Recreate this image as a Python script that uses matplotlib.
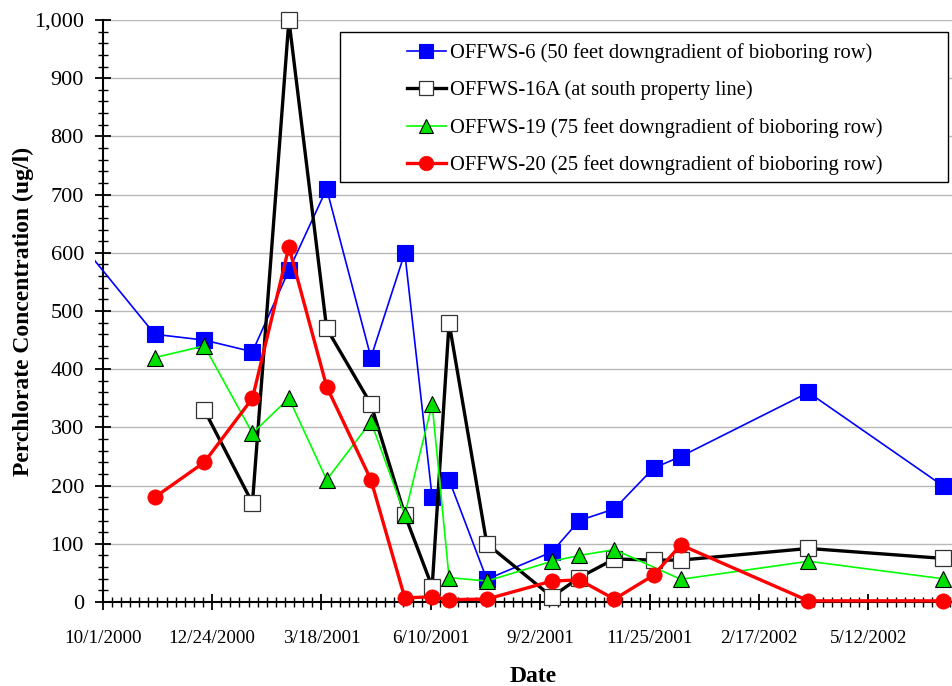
import matplotlib
matplotlib.use('Agg')
import matplotlib.pyplot as plt
import matplotlib.dates as mdates
from matplotlib.patches import Rectangle
from matplotlib.ticker import MultipleLocator, FuncFormatter, FixedLocator
import pandas as pd

plt.rcParams['font.family'] = ['Liberation Serif', 'DejaVu Serif']

# ---------------- data ----------------
ws6_dates = ['2000-08-31', '2000-11-10', '2000-12-18', '2001-01-24', '2001-02-21', '2001-03-22',
             '2001-04-25', '2001-05-21', '2001-06-11', '2001-06-24', '2001-07-23', '2001-09-11',
             '2001-10-02', '2001-10-29', '2001-11-28', '2001-12-19', '2002-03-27', '2002-07-08']
ws6_values = [655, 460, 450, 430, 570, 710, 420, 600, 180, 210, 39, 86, 140, 160, 230, 250, 360, 200]

ws16a_dates = ['2000-12-18', '2001-01-24', '2001-02-21', '2001-03-22', '2001-04-25', '2001-05-21',
               '2001-06-11', '2001-06-24', '2001-07-23', '2001-09-11', '2001-10-02', '2001-10-29',
               '2001-11-28', '2001-12-19', '2002-03-27', '2002-07-08']
ws16a_values = [330, 170, 1000, 470, 340, 150, 26, 480, 100, 9, 42, 74, 72, 72, 92, 75]

ws19_dates = ['2000-11-10', '2000-12-18', '2001-01-24', '2001-02-21', '2001-03-22', '2001-04-25',
              '2001-05-21', '2001-06-11', '2001-06-24', '2001-07-23', '2001-09-11', '2001-10-02',
              '2001-10-29', '2001-12-19', '2002-03-27', '2002-07-08']
ws19_values = [420, 440, 290, 350, 210, 310, 150, 340, 42, 36, 70, 80, 90, 39, 70, 40]

ws20_dates = ['2000-11-10', '2000-12-18', '2001-01-24', '2001-02-21', '2001-03-22', '2001-04-25',
              '2001-05-21', '2001-06-11', '2001-06-24', '2001-07-23', '2001-09-11', '2001-10-02',
              '2001-10-29', '2001-11-28', '2001-12-19', '2002-03-27', '2002-07-08']
ws20_values = [180, 240, 350, 610, 370, 210, 7, 9, 4, 5, 36, 38, 5, 46, 98, 2, 2]

series_labels = ['OFFWS-6 (50 feet downgradient of bioboring row)',
                 'OFFWS-16A (at south property line)',
                 'OFFWS-19 (75 feet downgradient of bioboring row)',
                 'OFFWS-20 (25 feet downgradient of bioboring row)']

x_start = '2000-10-01'
x_end = '2002-07-16'
y_max = 1000

# ---------------- figure ----------------
W, H = 953, 686
fig = plt.figure(figsize=(W / 100, H / 100), dpi=100)
ax_left, ax_right, ax_top, ax_bottom = 102.7, 953.0, 20.0, 602.0
ax = fig.add_axes([ax_left / W, 1 - ax_bottom / H, (ax_right - ax_left) / W, (ax_bottom - ax_top) / H])

ax.set_xlim(pd.Timestamp(x_start), pd.Timestamp(x_end))
ax.set_ylim(0, y_max)

styles = [
    dict(color='#0000FF', lw=1.2, marker='s', ms=11, mfc='#0000FF', mec='#0000FF', mew=0.8),
    dict(color='black', lw=2.4, marker='s', ms=11, mfc='white', mec='#333333', mew=0.9),
    dict(color='#00FF00', lw=1.2, marker='^', ms=11, mfc='#00E000', mec='black', mew=0.8),
    dict(color='#FF0000', lw=2.4, marker='o', ms=11, mfc='#FF0000', mec='#FF0000', mew=0.5),
]
all_data = [(ws6_dates, ws6_values), (ws16a_dates, ws16a_values),
            (ws19_dates, ws19_values), (ws20_dates, ws20_values)]

clip_rect = Rectangle((-7.7 / (ax_right - ax_left), -0.05), 1.06, 1.1,
                      transform=ax.transAxes, facecolor='none', edgecolor='none')
ax.add_patch(clip_rect)
clip_rect.set_visible(False)

handles = []
for (d, v), st, lab in zip(all_data, styles, series_labels):
    ln, = ax.plot(pd.to_datetime(d), v, label=lab, zorder=3, **st)
    ln.set_clip_path(clip_rect)
    handles.append(ln)

# ---------------- axes styling ----------------
for s in ['top', 'right']:
    ax.spines[s].set_visible(False)
for s in ['left', 'bottom']:
    ax.spines[s].set_linewidth(1.5)
    ax.spines[s].set_zorder(2.5)

major_dates = pd.date_range(x_start, periods=8, freq='84D')
minor_dates = pd.date_range(x_start, x_end, freq='7D')
ax.xaxis.set_major_locator(FixedLocator(mdates.date2num(major_dates)))
ax.xaxis.set_minor_locator(FixedLocator(mdates.date2num(minor_dates)))

def date_fmt(x, pos):
    d = mdates.num2date(x)
    return f'{d.month}/{d.day}/{d.year}'

ax.xaxis.set_major_formatter(FuncFormatter(date_fmt))
ax.yaxis.set_major_locator(MultipleLocator(100))
ax.yaxis.set_minor_locator(MultipleLocator(20))
ax.yaxis.set_major_formatter(FuncFormatter(lambda v, p: f'{v:,.0f}'))

ax.tick_params(axis='both', which='major', direction='inout', length=11, width=1.3, color='black')
ax.tick_params(axis='both', which='minor', direction='inout', length=7.5, width=1.0, color='black')
ax.tick_params(axis='x', which='major', pad=14.5, labelsize=13.8)
ax.tick_params(axis='y', which='major', pad=8, labelsize=16)

ax.grid(axis='y', which='major', color='#b8b8b8', lw=1.0, zorder=1)
ax.set_axisbelow(True)

ax.set_ylabel('Perchlorate Concentration (ug/l)', fontsize=17, fontweight='bold', va='center')
ax.yaxis.set_label_coords((23 - ax_left) / (ax_right - ax_left), 0.5)
ax.set_xlabel('Date', fontsize=17, fontweight='bold')
ax.xaxis.set_label_coords((533 - ax_left) / (ax_right - ax_left), (ax_bottom - 676) / (ax_bottom - ax_top))
ax.xaxis.label.set_va('center')

# ---------------- legend ----------------
aw, ah = ax_right - ax_left, ax_bottom - ax_top
frame = Rectangle(((340 - ax_left) / aw, (ax_bottom - 182) / ah), (948 - 340) / aw, (182 - 32) / ah,
                  transform=ax.transAxes, facecolor='white', edgecolor='black', lw=1.0,
                  zorder=4, clip_on=False)
ax.add_patch(frame)
leg = ax.legend(handles=handles, loc='upper left',
                bbox_to_anchor=((407 - ax_left) / aw, (ax_bottom - 43) / ah),
                frameon=False, fontsize=14.75, borderpad=0, borderaxespad=0,
                handlelength=1.9, handletextpad=0.2, labelspacing=0.86,
                markerscale=0.95)
leg.set_zorder(5)

fig.savefig('out.png', dpi=100)
